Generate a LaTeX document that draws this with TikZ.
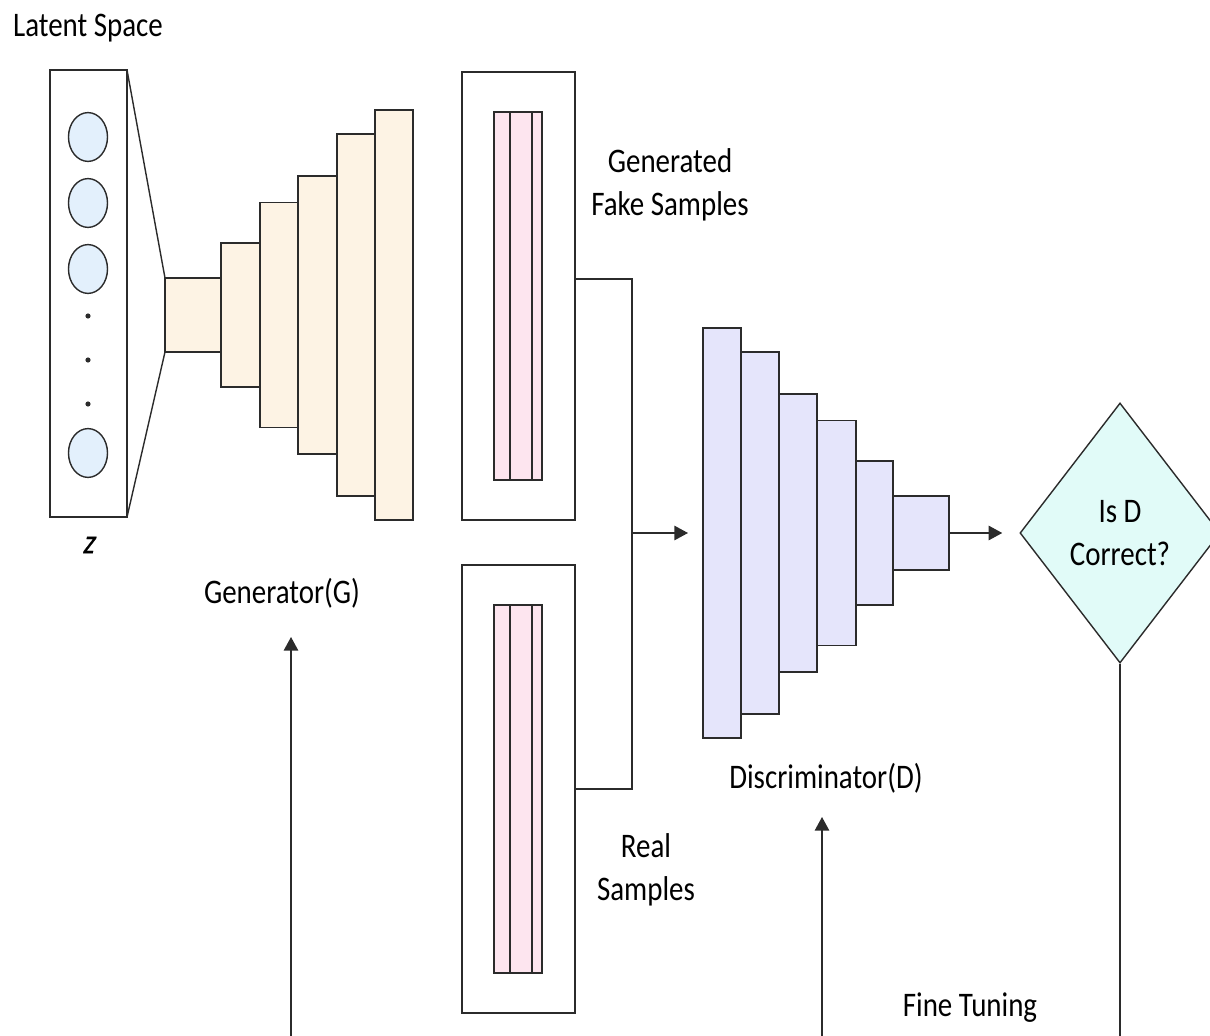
\documentclass[tikz,border=0pt]{standalone}
\usepackage{fontspec}
\setmainfont[FakeStretch=0.84]{Carlito}
\newfontfamily\slantfont[FakeStretch=0.84, FakeSlant=0.22, FakeBold=0.6]{Carlito}
\usetikzlibrary{shapes.geometric, positioning, arrows.meta, calc}

\definecolor{genfill}{HTML}{FDF3E4}
\definecolor{discfill}{HTML}{E5E5FB}
\definecolor{smplfill}{HTML}{FDE5EF}
\definecolor{unitfill}{HTML}{E3F0FC}
\definecolor{decfill}{HTML}{E1FBF8}
\definecolor{edge}{HTML}{2B2B2B}

\begin{document}
\begin{tikzpicture}[
  x=0.025cm, y=-0.025cm,
  every node/.style={font=\fontsize{24.5}{31}\selectfont},
  blk/.style     ={draw=edge, line width=1pt, rectangle, inner sep=0pt,
                   outer sep=0pt},
  gblock/.style  ={blk, fill=genfill},
  dblock/.style  ={blk, fill=discfill},
  sampbox/.style ={blk, fill=white, minimum width=2.825cm,
                   minimum height=11.2cm},
  strip/.style   ={blk, fill=smplfill, minimum width=1.2cm,
                   minimum height=9.2cm},
  unit/.style    ={draw=edge, line width=1pt, ellipse, inner sep=0pt,
                   fill=unitfill, minimum width=0.975cm, minimum height=1.22cm},
  ddot/.style    ={circle, fill=edge, inner sep=0pt, minimum size=1.3mm},
  decision/.style={draw=edge, line width=1pt, diamond, inner sep=0pt,
                   fill=decfill, align=center, minimum width=5cm,
                   minimum height=6.5cm},
  lbl/.style     ={align=center, inner sep=0pt},
  wire/.style    ={draw=edge, line width=1pt},
  arr/.style     ={wire, -{Triangle[length=3.4mm, width=3.6mm]}},
]

%% ---- units are px of the 1210 x 1036 sheet, y grows downward ----
\clip (0,0) rectangle (1210,1036);

%% ---- Latent space ----
\node[lbl] (latlbl) at (88,28) {Latent Space};
\node[blk, minimum width=1.925cm, minimum height=11.175cm] (latent)
  at (88.5,293.5) {};
\node[unit] (u1) at (88,137) {};
\node[unit] (u2) at (88,203) {};
\node[unit] (u3) at (88,269) {};
\node[ddot] (d1) at (88,316) {};
\node[ddot] (d2) at (88,360) {};
\node[ddot] (d3) at (88,404) {};
\node[unit] (u4) at (88,453) {};
\node[lbl] (zlbl) at (88,545) {\slantfont z};

%% ---- Generator ----
\node[gblock, minimum width=1.4cm,   minimum height=1.85cm]  (G1) at (193,315) {};
\node[gblock, minimum width=0.975cm, minimum height=3.6cm,   right=0pt of G1] (G2) {};
\node[gblock, minimum width=0.95cm,  minimum height=5.625cm, right=0pt of G2] (G3) {};
\node[gblock, minimum width=0.975cm, minimum height=6.95cm,  right=0pt of G3] (G4) {};
\node[gblock, minimum width=0.95cm,  minimum height=9.05cm,  right=0pt of G4] (G5) {};
\node[gblock, minimum width=0.95cm,  minimum height=10.25cm, right=0pt of G5] (G6) {};
\draw[wire] (latent.north east) -- (G1.north west);
\draw[wire] (latent.south east) -- (G1.south west);
\node[lbl] (genlbl) at (282,593) {Generator(G)};

%% ---- Samples ----
\node[sampbox] (fake) at (518.5,296) {};
\node[strip] (fakein) at (518,296) {};
\draw[wire] ($(fakein.north west)+(16,0)$) -- ($(fakein.south west)+(16,0)$);
\draw[wire] ($(fakein.north west)+(38,0)$) -- ($(fakein.south west)+(38,0)$);
\node[lbl] (fakelbl) at (670,185) {Generated\\Fake Samples};

\node[sampbox] (real) at (518.5,789) {};
\node[strip] (realin) at (518,789) {};
\draw[wire] ($(realin.north west)+(16,0)$) -- ($(realin.south west)+(16,0)$);
\draw[wire] ($(realin.north west)+(38,0)$) -- ($(realin.south west)+(38,0)$);
\node[lbl] (reallbl) at (646,870) {Real\\Samples};

%% ---- Discriminator ----
\node[dblock, minimum width=0.95cm,  minimum height=10.25cm] (D1) at (722,533) {};
\node[dblock, minimum width=0.95cm,  minimum height=9.05cm,  right=0pt of D1] (D2) {};
\node[dblock, minimum width=0.95cm,  minimum height=6.95cm,  right=0pt of D2] (D3) {};
\node[dblock, minimum width=0.975cm, minimum height=5.625cm, right=0pt of D3] (D4) {};
\node[dblock, minimum width=0.925cm, minimum height=3.6cm,   right=0pt of D4] (D5) {};
\node[dblock, minimum width=1.4cm,   minimum height=1.85cm,  right=0pt of D5] (D6) {};
\node[lbl] (disclbl) at (826,778) {Discriminator(D)};

%% merge of both sample streams
\coordinate (jtop) at (632,279);
\coordinate (jmid) at (632,533);
\coordinate (jbot) at (632,789);
\draw[wire] (fake.east |- jtop) -- (jtop) -- (jbot) -- (real.east);
\draw[arr, shorten >=0.375cm] (jmid) -- (D1);

%% ---- Decision ----
\node[decision] (dec) at (1120,533) {Is D\\Correct?};
\draw[arr, shorten >=0.425cm] (D6.east) -- (dec.west);

%% ---- Feedback ----
\coordinate (decfoot) at (1120,1040);
\draw[wire] (dec.south) -- (decfoot);
\coordinate (gfoot) at (291,1040);
\coordinate (gtip)  at (291,637);
\draw[arr] (gfoot) -- (gtip);
\coordinate (dfoot) at (822,1040);
\coordinate (dtip)  at (822,817);
\draw[arr] (dfoot) -- (dtip);
\node[lbl] (ftlbl) at (970,1008) {Fine Tuning};

\end{tikzpicture}
\end{document}
